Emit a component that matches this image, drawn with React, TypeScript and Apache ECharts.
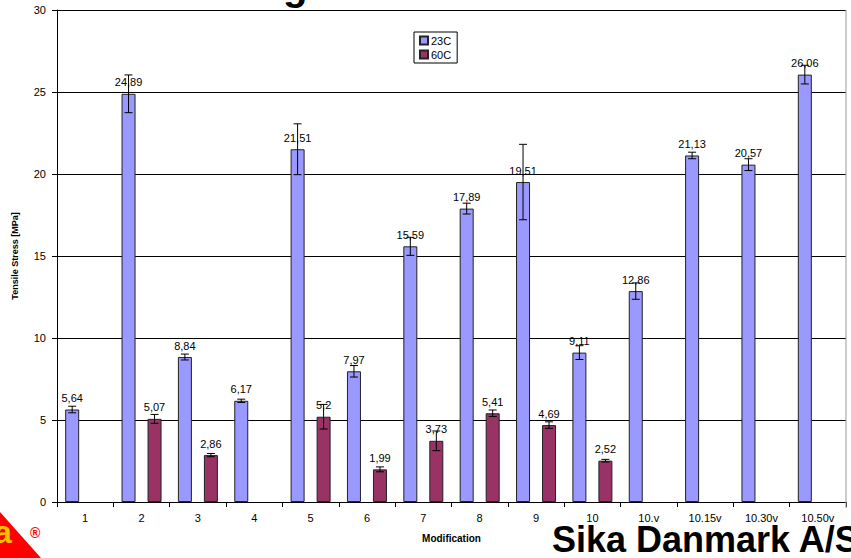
import React, { useEffect, useRef } from "react";
import * as echarts from "echarts";

const categories = ["1", "2", "3", "4", "5", "6", "7", "8", "9", "10", "10.v", "10.15v", "10.30v", "10.50v"];
const values23C = [5.64, 24.89, 8.84, 6.17, 21.51, 7.97, 15.59, 17.89, 19.51, 9.11, 12.86, 21.13, 20.57, 26.06];
const errors23C = [0.2, 1.15, 0.18, 0.1, 1.55, 0.35, 0.55, 0.33, 2.3, 0.42, 0.5, 0.2, 0.36, 0.57];
const values60C = [null, 5.07, 2.86, null, 5.2, 1.99, 3.73, 5.41, 4.69, 2.52, null, null, null, null];
const errors60C = [null, 0.27, 0.1, null, 0.75, 0.15, 0.6, 0.2, 0.2, 0.08, null, null, null, null];
const yTicks = { min: 0, max: 30, interval: 5 };

const FONT = "'Liberation Sans', Arial, sans-serif";
const BAR_W = 14;
const BAR_GAP_PX = 12;
const OFFSET = (BAR_W + BAR_GAP_PX) / 2;

function errData(vals: (number | null)[], errs: (number | null)[]) {
  const out: number[][] = [];
  vals.forEach((v, i) => {
    if (v != null && errs[i] != null) out.push([i, v, errs[i] as number]);
  });
  return out;
}

function makeErrRender(offset: number) {
  return (params: any, api: any) => {
    const i = api.value(0);
    const v = api.value(1);
    const e = api.value(2);
    const top = api.coord([i, v + e]);
    const bot = api.coord([i, v - e]);
    const x = top[0] + offset;
    const cap = 4;
    const style = { stroke: "#000", lineWidth: 1 };
    return {
      type: "group",
      children: [
        { type: "line", shape: { x1: x, y1: top[1], x2: x, y2: bot[1] }, style },
        { type: "line", shape: { x1: x - cap, y1: top[1], x2: x + cap, y2: top[1] }, style },
        { type: "line", shape: { x1: x - cap, y1: bot[1], x2: x + cap, y2: bot[1] }, style },
      ],
    };
  };
}

const fmt = (p: any) => String(p.value).replace(".", ",");

export default function App() {
  const ref = useRef<HTMLDivElement>(null);
  useEffect(() => {
    if (!ref.current) return;
    const chart = echarts.init(ref.current, null, { renderer: "svg" });
    chart.setOption({
      animation: false,
      backgroundColor: "#fff",
      textStyle: { fontFamily: FONT },
      grid: { left: 57, right: 5, top: 10, bottom: 56, containLabel: false },
      legend: {
        data: ["23C", "60C"],
        orient: "vertical",
        left: 414,
        top: 32,
        padding: [3, 6, 3, 5],
        itemWidth: 8,
        itemHeight: 8,
        itemGap: 3,
        icon: "rect",
        borderColor: "#000",
        borderWidth: 1,
        borderRadius: 0,
        backgroundColor: "#fff",
        textStyle: { fontSize: 11, color: "#000", fontFamily: FONT, padding: [0, 0, 0, -2] },
      },
      xAxis: {
        type: "category",
        data: categories,
        name: "Modification",
        nameLocation: "middle",
        nameGap: 31,
        nameTextStyle: { fontSize: 10, fontWeight: "bold", color: "#000", fontFamily: FONT },
        axisLine: { lineStyle: { color: "#000", width: 1 } },
        axisTick: { show: true, length: 5, lineStyle: { color: "#000" } },
        axisLabel: { fontSize: 11, color: "#000", margin: 10, interval: 0, fontFamily: FONT },
        splitLine: { show: false },
      },
      yAxis: {
        type: "value",
        min: yTicks.min,
        max: yTicks.max,
        interval: yTicks.interval,
        name: "Tensile Stress [MPa]",
        nameLocation: "middle",
        nameGap: 38,
        nameTextStyle: { fontSize: 9, fontWeight: "bold", color: "#000", fontFamily: FONT },
        axisLine: { show: true, lineStyle: { color: "#000", width: 1 } },
        axisTick: { show: true, length: 5, lineStyle: { color: "#000" } },
        axisLabel: { fontSize: 11, color: "#000", margin: 11, fontFamily: FONT },
        splitLine: { show: true, lineStyle: { color: "#000", width: 1 } },
      },
      series: [
        {
          name: "23C",
          type: "bar",
          data: values23C,
          barWidth: BAR_W,
          barGap: `${(BAR_GAP_PX / BAR_W) * 100}%`,
          itemStyle: { color: "#9999FF", borderColor: "#222", borderWidth: 1 },
          label: {
            show: true,
            position: "top",
            distance: 6,
            fontSize: 11,
            color: "#000",
            fontFamily: FONT,
            formatter: fmt,
          },
          z: 2,
        },
        {
          name: "60C",
          type: "bar",
          data: values60C,
          barWidth: BAR_W,
          itemStyle: { color: "#993366", borderColor: "#222", borderWidth: 1 },
          label: {
            show: true,
            position: "top",
            distance: 6,
            fontSize: 11,
            color: "#000",
            fontFamily: FONT,
            formatter: fmt,
          },
          z: 2,
        },
        {
          name: "err23",
          type: "custom",
          renderItem: makeErrRender(-OFFSET),
          data: errData(values23C, errors23C),
          encode: { x: 0, y: 1 },
          z: 5,
          silent: true,
        },
        {
          name: "err60",
          type: "custom",
          renderItem: makeErrRender(OFFSET),
          data: errData(values60C, errors60C),
          encode: { x: 0, y: 1 },
          z: 5,
          silent: true,
        },
      ],
      graphic: [
        {
          type: "line",
          shape: { x1: 846, y1: 10, x2: 846, y2: 508 },
          style: { stroke: "#999", lineWidth: 1 },
          z: 1,
        },
        {
          type: "text",
          left: 283,
          top: -34,
          style: { text: "g", font: `bold 40px ${FONT}`, fill: "#000" },
          z: 10,
        },
        {
          type: "polygon",
          shape: { points: [[0, 512], [41, 558], [0, 558]] },
          style: { fill: "#ff0000" },
          z: 10,
        },
        {
          type: "text",
          left: -6,
          top: 516,
          style: { text: "a", font: `bold 32px ${FONT}`, fill: "#f5c400" },
          z: 11,
        },
        {
          type: "text",
          left: 30,
          top: 526,
          style: { text: "®", font: `bold 14px ${FONT}`, fill: "#ff0000" },
          z: 11,
        },
        {
          type: "text",
          left: 552,
          top: 521,
          style: { text: "Sika Danmark A/S", font: `bold 36px ${FONT}`, fill: "#000" },
          z: 11,
        },
      ],
    });
    return () => chart.dispose();
  }, []);
  return (
    <div
      ref={ref}
      style={{ position: "absolute", left: 0, top: 0, width: 851, height: 558, overflow: "hidden" }}
    />
  );
}
